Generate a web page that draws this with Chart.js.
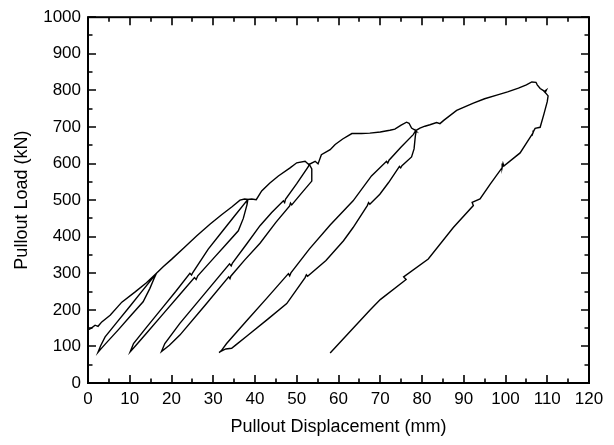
<!DOCTYPE html>
<html>
<head>
<meta charset="utf-8">
<script src="https://cdn.jsdelivr.net/npm/chart.js@4/dist/chart.umd.min.js"></script>
<style>
  html, body { margin: 0; padding: 0; background: #fff; }
</style>
</head>
<body>
<canvas id="chart" width="614" height="445"></canvas>
<script>
// Cyclic pullout test: load (kN) against displacement (mm), one continuous trace
// made of loading branches and unload/reload loops.

const firstLoadX = [0, 0.8, 1.7, 2.4, 3.3, 5.3, 8.1, 11.3, 14.0, 16.4];
const firstLoadY = [145, 150, 158, 155, 167, 185, 221, 249, 274, 300];

const unload1X = [15.8, 14.8, 13.2, 10.0, 7.3, 4.5, 3.0, 2.4];
const unload1Y = [285, 258, 222, 181, 146, 111, 92, 84];
const reload1X = [3.0, 4.1, 7.0, 10.0, 13.0, 16.4];
const reload1Y = [101, 126, 167, 209, 252, 300];

const load2X = [18.0, 20.0, 23.0, 26.0, 29.2, 32.0, 34.5, 36.4, 37.5, 38.3];
const load2Y = [318, 338, 370, 402, 434, 460, 482, 500, 503, 502];

const unload2X = [38.1, 37.2, 36.0, 33.0, 30.0, 26.3, 25.9, 25.5, 22.0, 18.0, 14.0, 11.5, 10.1];
const unload2Y = [488, 450, 416, 378, 340, 293, 283, 288, 242, 189, 136, 103, 85];
const reload2X = [10.9, 14.0, 18.0, 21.0, 24.4, 24.8, 25.1, 28.8, 32.0, 35.0, 38.3];
const reload2Y = [108, 152, 208, 250, 300, 295, 302, 366, 412, 455, 502];

const load3X = [39.2, 40.3, 41.6, 43.5, 45.6, 48.4, 50.0, 52.0, 52.6, 53.2, 52.8, 53.0];
const load3Y = [503, 501, 525, 546, 566, 588, 602, 606, 600, 594, 599, 598];

const unload3X = [53.6, 53.6, 51.0, 48.8, 48.5, 48.3, 45.0, 41.2, 37.5, 34.2, 34.0, 33.7, 28.0, 22.0, 19.5, 17.6];
const unload3Y = [585, 552, 517, 487, 492, 484, 439, 382, 336, 292, 285, 290, 212, 131, 103, 86];
const reload3X = [18.4, 22.0, 28.0, 33.9, 34.3, 34.6, 38.0, 41.2, 44.0, 46.8, 47.1, 47.3, 50.0, 52.8, 53.0];
const reload3Y = [108, 163, 245, 326, 320, 328, 380, 430, 466, 498, 493, 502, 545, 592, 598];

const load4X = [54.4, 55.1, 55.9, 58.0, 59.2, 61.0, 63.2, 65.5, 67.5, 70.0, 72.3, 73.5, 75.0, 76.3, 76.9, 77.5, 78.5, 78.2, 78.6];
const load4Y = [606, 599, 624, 638, 652, 667, 682, 682, 683, 686, 691, 694, 705, 713, 710, 697, 690, 694, 688];

const unload4X = [78.4, 78.1, 77.5, 75.2, 74.9, 74.6, 72.0, 69.9, 67.5, 67.2, 66.9, 63.5, 61.2, 57.0, 52.6, 52.3, 52.0, 47.6, 43.0, 38.0, 35.5, 34.4, 33.0, 31.7, 31.4];
const unload4Y = [675, 640, 618, 594, 588, 592, 548, 516, 489, 493, 485, 425, 389, 335, 292, 296, 288, 217, 174, 128, 105, 95, 93, 86, 83];
const reload4X = [31.9, 33.2, 38.0, 43.0, 48.0, 48.3, 48.6, 53.0, 58.0, 63.5, 67.9, 71.5, 71.8, 72.1, 75.0, 77.9, 78.5];
const reload4Y = [88, 108, 170, 234, 299, 293, 301, 366, 432, 498, 566, 606, 601, 609, 645, 679, 690];

const load5X = [79.5, 80.7, 81.9, 83.5, 84.3, 85.2, 88.3, 92.3, 95.0, 97.9, 100.5, 103.1, 105.0, 106.3, 107.3, 107.6, 108.3, 109.0, 109.5, 109.8, 109.3, 110.2, 110.0];
const load5Y = [697, 702, 706, 712, 709, 718, 745, 765, 777, 787, 796, 806, 815, 823, 822, 815, 805, 800, 794, 801, 797, 785, 769];

const unload5X = [109.2, 108.3, 107.1, 106.8, 106.6, 103.5, 99.6, 99.4, 99.2, 96.3, 93.9, 92.0, 92.3, 87.5, 81.5, 75.6, 76.2, 70.0, 67.5, 62.0, 58.0];
const unload5Y = [735, 699, 696, 690, 684, 629, 593, 600, 589, 543, 503, 494, 485, 425, 339, 290, 283, 228, 199, 131, 82];

// Axis ticks
const xTickValues = [0, 10, 20, 30, 40, 50, 60, 70, 80, 90, 100, 110, 120];
const yTickValues = [0, 100, 200, 300, 400, 500, 600, 700, 800, 900, 1000];

const segments = [
  [firstLoadX, firstLoadY],
  [unload1X, unload1Y], [reload1X, reload1Y], [load2X, load2Y],
  [unload2X, unload2Y], [reload2X, reload2Y], [load3X, load3Y],
  [unload3X, unload3Y], [reload3X, reload3Y], [load4X, load4Y],
  [unload4X, unload4Y], [reload4X, reload4Y], [load5X, load5Y],
  [unload5X, unload5Y]
];
const trace = [];
segments.forEach(([xs, ys]) => xs.forEach((x, i) => trace.push({ x: x, y: ys[i] })));

const FONT = "'Liberation Sans', Arial, Helvetica, sans-serif";

function midpoints(vals) {
  const out = [];
  for (let i = 0; i < vals.length - 1; i++) out.push((vals[i] + vals[i + 1]) / 2);
  return out;
}

// Closed frame with inward-pointing major and minor ticks on all four sides
const frameTicks = {
  id: 'frameTicks',
  afterDatasetsDraw(chart) {
    const { ctx, chartArea: a, scales } = chart;
    const xs = scales.x, ys = scales.y;
    ctx.save();
    ctx.strokeStyle = '#000';
    ctx.lineWidth = 1.6;
    ctx.beginPath();
    const xMarks = (vals, len) => vals.forEach(v => {
      const p = Math.round(xs.getPixelForValue(v));
      ctx.moveTo(p, a.bottom); ctx.lineTo(p, a.bottom - len);
      ctx.moveTo(p, a.top); ctx.lineTo(p, a.top + len);
    });
    const yMarks = (vals, len) => vals.forEach(v => {
      const p = Math.round(ys.getPixelForValue(v));
      ctx.moveTo(a.left, p); ctx.lineTo(a.left + len, p);
      ctx.moveTo(a.right, p); ctx.lineTo(a.right - len, p);
    });
    xMarks(xTickValues, 8);
    xMarks(midpoints(xTickValues), 4.5);
    yMarks(yTickValues, 8);
    yMarks(midpoints(yTickValues), 4.5);
    ctx.stroke();
    ctx.lineWidth = 2;
    ctx.strokeRect(a.left, a.top, a.right - a.left, a.bottom - a.top);
    ctx.restore();
  }
};

new Chart(document.getElementById('chart'), {
  type: 'scatter',
  data: {
    datasets: [{
      data: trace,
      showLine: true,
      borderColor: '#000',
      borderWidth: 1.4,
      pointRadius: 0,
      tension: 0,
      fill: false
    }]
  },
  options: {
    responsive: false,
    animation: false,
    devicePixelRatio: 1,
    layout: { padding: { left: 0, top: 15, right: 25, bottom: 0 } },
    plugins: { legend: { display: false }, tooltip: { enabled: false } },
    scales: {
      x: {
        type: 'linear',
        min: 0, max: 120,
        afterBuildTicks: s => { s.ticks = xTickValues.map(v => ({ value: v })); },
        afterFit: s => { s.height = 62; },
        grid: { display: false, drawTicks: false },
        border: { display: false },
        ticks: { color: '#000', font: { family: FONT, size: 17 }, padding: 6, maxRotation: 0, autoSkip: false,
                 callback: v => String(v) },
        title: { display: true, text: 'Pullout Displacement (mm)', color: '#000',
                 font: { family: FONT, size: 18 }, padding: { top: 0, bottom: 7 } }
      },
      y: {
        type: 'linear',
        min: 0, max: 1000,
        afterBuildTicks: s => { s.ticks = yTickValues.map(v => ({ value: v })); },
        afterFit: s => { s.width = 88; },
        grid: { display: false, drawTicks: false },
        border: { display: false },
        ticks: { color: '#000', font: { family: FONT, size: 17 }, padding: 7, autoSkip: false,
                 callback: v => String(v) },
        title: { display: true, text: 'Pullout Load (kN)', color: '#000',
                 font: { family: FONT, size: 18 }, padding: { top: 11, bottom: 0 } }
      }
    }
  },
  plugins: [frameTicks]
});
</script>
</body>
</html>
